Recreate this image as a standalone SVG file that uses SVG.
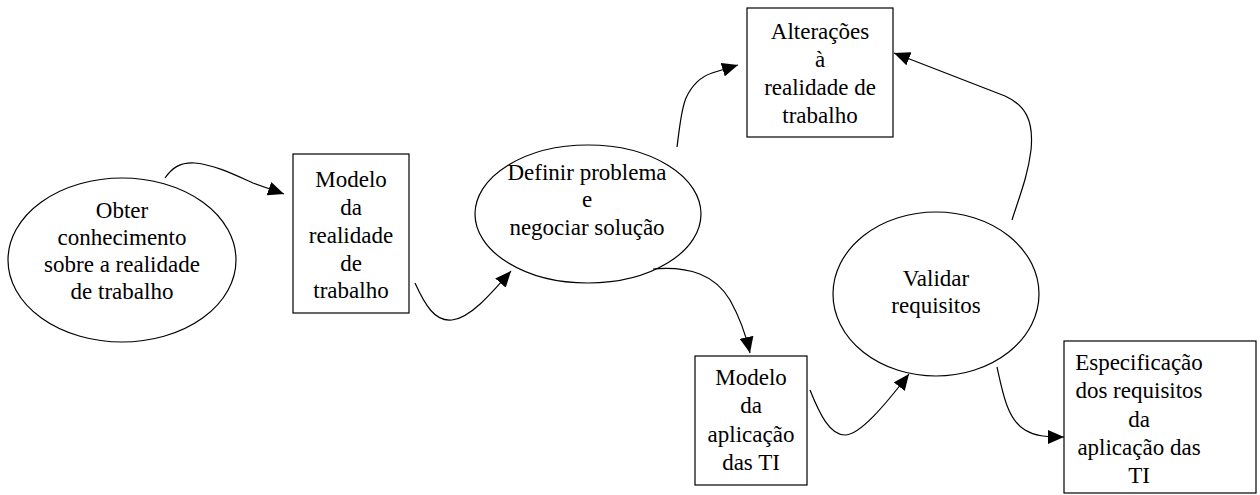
<svg xmlns="http://www.w3.org/2000/svg" width="1260" height="495" viewBox="0 0 1260 495">
<defs>
<marker id="arr" markerUnits="userSpaceOnUse" markerWidth="18" markerHeight="14" refX="16" refY="7" orient="auto">
<path d="M0,0 L16,7 L0,14 Z" fill="#000"/>
</marker>
<style>
.n{fill:#fff;stroke:#000;stroke-width:1.2}
.t{font-family:"Liberation Serif","Times New Roman",serif;font-size:23px;fill:#000;text-anchor:middle}
.c{fill:none;stroke:#000;stroke-width:1.2;marker-end:url(#arr)}
</style>
</defs>
<rect width="1260" height="495" fill="#fff"/>
<g id="obter">
<ellipse class="n" cx="122" cy="260" rx="114" ry="82"/>
<text class="t" x="122" y="218">Obter</text>
<text class="t" x="122" y="245">conhecimento</text>
<text class="t" x="122" y="272">sobre a realidade</text>
<text class="t" x="122" y="299">de trabalho</text>
</g>
<g id="modelo-realidade">
<rect class="n" x="293" y="154" width="116" height="159"/>
<text class="t" x="351" y="187">Modelo</text>
<text class="t" x="351" y="215">da</text>
<text class="t" x="351" y="243">realidade</text>
<text class="t" x="351" y="271">de</text>
<text class="t" x="351" y="298">trabalho</text>
</g>
<g id="definir">
<ellipse class="n" cx="588" cy="214" rx="113" ry="69"/>
<text class="t" x="587" y="180">Definir problema</text>
<text class="t" x="587" y="207">e</text>
<text class="t" x="587" y="235">negociar solução</text>
</g>
<g id="alteracoes">
<rect class="n" x="747" y="8" width="146" height="129"/>
<text class="t" x="820" y="39">Alterações</text>
<text class="t" x="820" y="67">à</text>
<text class="t" x="820" y="95">realidade de</text>
<text class="t" x="820" y="123">trabalho</text>
</g>
<g id="validar">
<ellipse class="n" cx="936" cy="294" rx="103" ry="82"/>
<text class="t" x="936" y="286">Validar</text>
<text class="t" x="936" y="313">requisitos</text>
</g>
<g id="modelo-aplicacao">
<rect class="n" x="695" y="356" width="112" height="129"/>
<text class="t" x="751" y="385">Modelo</text>
<text class="t" x="751" y="413">da</text>
<text class="t" x="751" y="442">aplicação</text>
<text class="t" x="751" y="470">das TI</text>
</g>
<g id="especificacao">
<rect class="n" x="1064" y="341" width="192" height="152"/>
<text class="t" x="1139" y="370">Especificação</text>
<text class="t" x="1139" y="398">dos requisitos</text>
<text class="t" x="1139" y="427">da</text>
<text class="t" x="1139" y="455">aplicação das</text>
<text class="t" x="1139" y="483">TI</text>
</g>
<g id="connectors">
<path class="c" d="M165,178 C172,168 180,162 195,163 C215,165 235,175 253,183 L284,194"/>
<path class="c" d="M415,283 C425,305 435,322 452,320 C470,318 490,295 511,271"/>
<path class="c" d="M677,147 C680,125 681,110 686,98 C692,85 700,77 712,73 L738,65"/>
<path class="c" d="M653,269 C690,266 715,275 730,300 C740,318 746,335 750,353"/>
<path class="c" d="M810,390 C820,415 830,435 845,435 C860,435 885,405 909,374"/>
<path class="c" d="M997,367 C1003,395 1008,420 1025,430 C1035,436 1045,437 1064,437"/>
<path class="c" d="M1012,220 C1020,195 1028,175 1031,150 C1034,120 1025,105 1005,96 L894,53"/>
</g>
</svg>
